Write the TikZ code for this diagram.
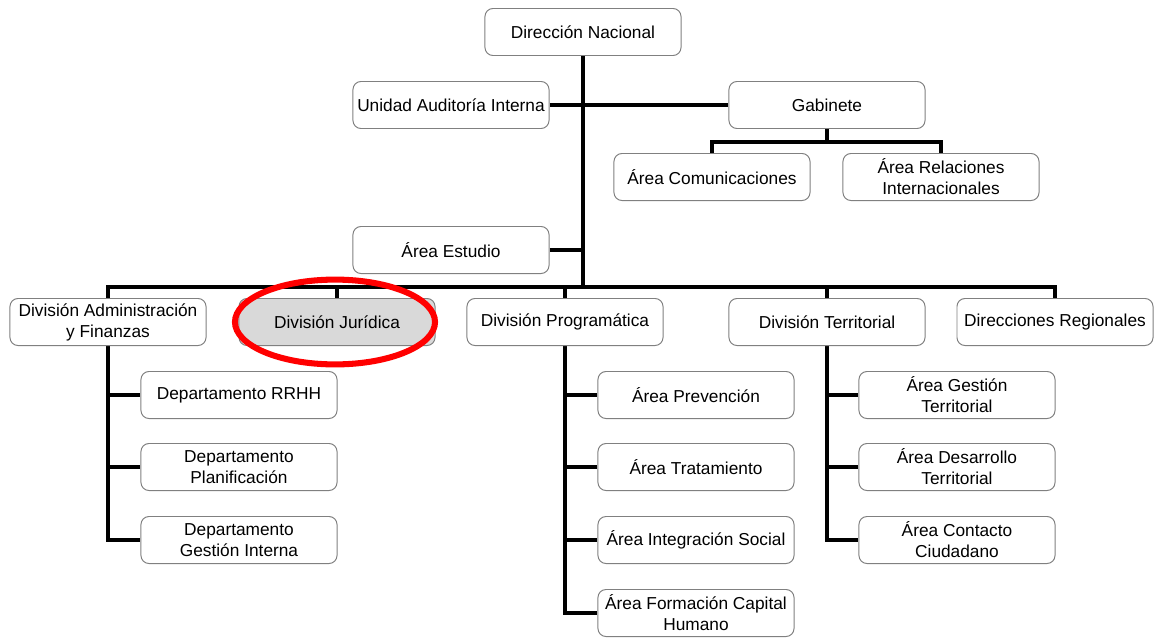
\documentclass[tikz,border=0pt]{standalone}
\usepackage{fontspec}
\setmainfont{Liberation Sans}
\usepackage{xcolor}
\usetikzlibrary{backgrounds,shapes.geometric}

\definecolor{borde}{RGB}{128,128,128}
\definecolor{gris}{RGB}{217,217,217}

\begin{document}
\begin{tikzpicture}[x=0.025cm,y=-0.025cm,
    caja/.style={draw=borde,fill=white,line width=0.7pt,rounded corners=0.2cm,
        minimum width=4.9cm,minimum height=1.175cm,align=center,inner sep=1pt,
        font=\fontsize{12.3}{14.9}\selectfont},
    linea/.style={line width=2.6pt,line join=miter},
    marca/.style={draw=red,line width=4.3pt,ellipse,inner sep=0pt,
        minimum width=5cm,minimum height=2.12cm}]
    \useasboundingbox (0,0) rectangle (1154,637);
    \node[caja] (dn) at (583,32) {Dirección Nacional};
    \node[caja] (uai) at (451,105) {Unidad Auditoría Interna};
    \node[caja] (gab) at (827,105) {Gabinete};
    \node[caja] (com) at (712,177) {Área Comunicaciones};
    \node[caja] (ari) at (941,177) {Área Relaciones\\Internacionales};
    \node[caja] (est) at (451,250) {Área Estudio};
    \node[caja] (dap) at (108,322) {División Administración\\y Finanzas};
    \node[caja,fill=gris] (dju) at (337,322) {División Jurídica};
    \node[caja] (dpr) at (565,322) {División Programática};
    \node[caja] (dte) at (827,322) {División Territorial};
    \node[caja] (dreg) at (1055,322) {Direcciones Regionales};
    \node[caja] (rrhh) at (239,395) {Departamento RRHH};
    \node[caja] (dpl) at (239,467) {Departamento\\Planificación};
    \node[caja] (dgi) at (239,540) {Departamento\\Gestión Interna};
    \node[caja] (apr) at (696,395) {Área Prevención};
    \node[caja] (atr) at (696,467) {Área Tratamiento};
    \node[caja] (ais) at (696,540) {Área Integración Social};
    \node[caja] (afc) at (696,613) {Área Formación Capital\\Humano};
    \node[caja] (agt) at (957,395) {Área Gestión\\Territorial};
    \node[caja] (adt) at (957,467) {Área Desarrollo\\Territorial};
    \node[caja] (acc) at (957,540) {Área Contacto\\Ciudadano};
    \coordinate (bus) at (0,287);
    \coordinate (gbus) at (0,142);
    \begin{scope}[on background layer]
        % tronco central
        \draw[linea] (dn.south) -- (dn |- bus);
        \draw[linea] (uai.east) -- (gab.west);
        \draw[linea] (est.east) -- (dn |- est);
        % gabinete
        \draw[linea] (gab.south) -- (gab |- gbus);
        \draw[linea] (com.north) -- (com |- gbus) -- (ari |- gbus) -- (ari.north);
        % divisiones
        \draw[linea] (dap.north) -- (dap |- bus) -- (dreg |- bus) -- (dreg.north);
        \foreach \d in {dju,dpr,dte}
            \draw[linea] (\d |- bus) -- (\d.north);
        % departamentos y areas
        \draw[linea] (dap.south) -- (dap |- dgi) -- (dgi.west);
        \draw[linea] (dpr.south) -- (dpr |- afc) -- (afc.west);
        \draw[linea] (dte.south) -- (dte |- acc) -- (acc.west);
        \foreach \p/\h in {dap/rrhh,dap/dpl,dpr/apr,dpr/atr,dpr/ais,dte/agt,dte/adt}
            \draw[linea] (\p |- \h) -- (\h.west);
    \end{scope}
    \node[marca] (circulo) at ([xshift=-0.05cm]dju.center) {};
\end{tikzpicture}
\end{document}
